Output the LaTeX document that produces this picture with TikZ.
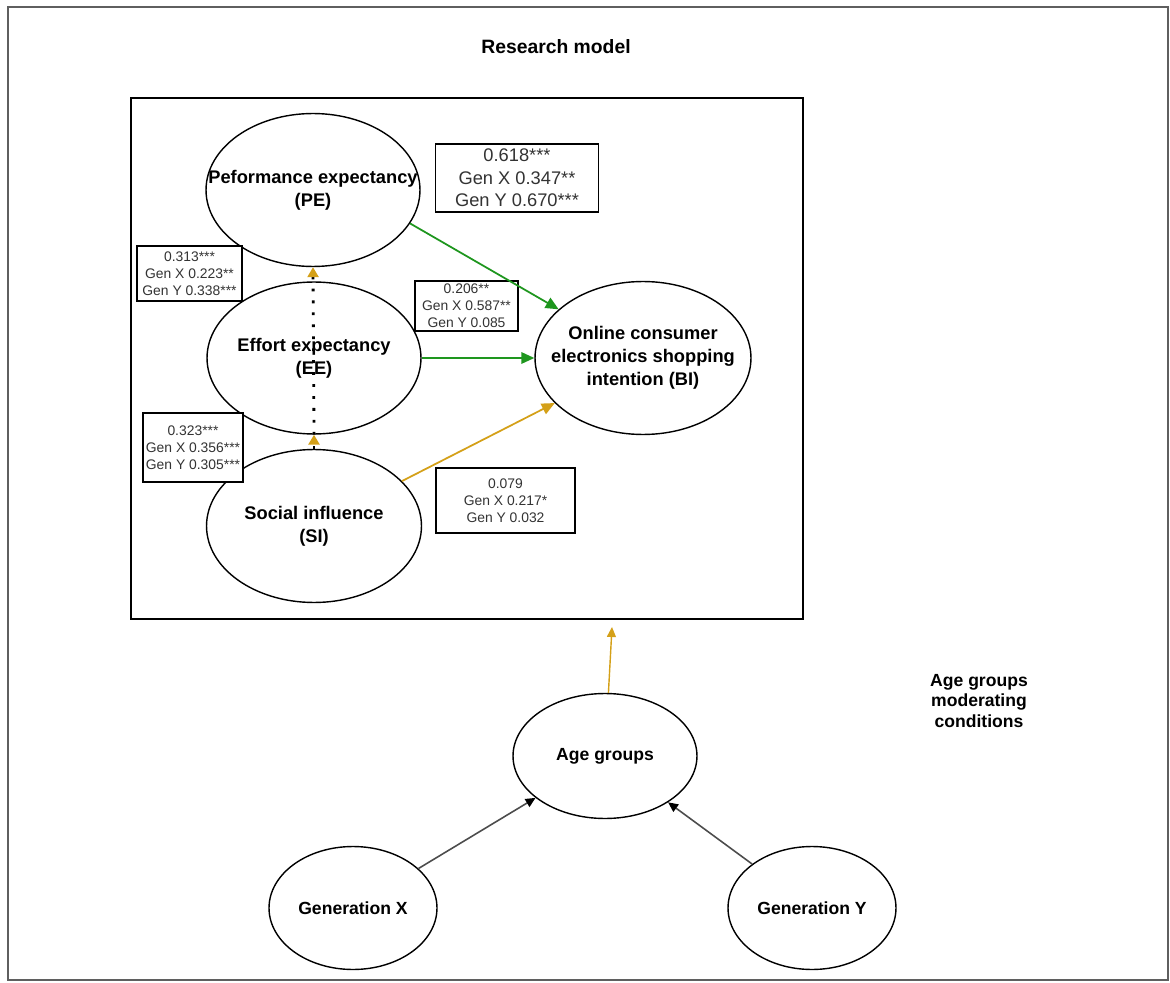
\documentclass[tikz,border=0pt]{standalone}
\usepackage{fontspec}
\setmainfont{Liberation Sans}
\usepackage{xcolor}
\usepackage{tikz}
\usetikzlibrary{arrows.meta,shapes.geometric}
\definecolor{pathgreen}{RGB}{30,150,30}
\definecolor{pathgold}{RGB}{212,160,24}
\definecolor{framegray}{RGB}{95,95,95}

\begin{document}
\begin{tikzpicture}[x=.02cm,y=-.02cm,
  construct/.style={draw,ellipse,line width=.8pt,inner sep=0pt},
  cname/.style={align=center,font=\bfseries\fontsize{10.4}{13}\selectfont},
  coef/.style={draw,fill=white,line width=.8pt,align=center,inner sep=0pt,text=black!80,font=\fontsize{7.9}{9.8}\selectfont},
  greenpath/.style={pathgreen,line width=1pt,-{Triangle[length=2.6mm,width=2.3mm]}},
  goldpath/.style={pathgold,line width=1pt,-{Triangle[length=2.6mm,width=2.3mm]}},
  dotpath/.style={line width=1.6pt,dash pattern=on 1.6pt off 5.2pt,-{Triangle[color=pathgold,length=2mm,width=2.2mm]}},
  genpath/.style={black!70,line width=.9pt,-{Triangle[black,length=2mm,width=1.8mm]}}]
\useasboundingbox (0,0) rectangle (1170,983);
\draw[framegray,line width=1pt] (8,7) rectangle (1168,980);
\node[font=\bfseries\fontsize{11}{13}\selectfont] (title) at (556,47) {Research model};
\draw[line width=1pt] (131,98) rectangle (803,619);

% constructs
\node[construct,minimum width=4.28cm,minimum height=3.06cm,label={[cname]center:{Peformance expectancy\\(PE)}}] (PE) at (313,190) {};
\node[construct,minimum width=4.28cm,minimum height=3.04cm,label={[cname]center:{Effort expectancy\\(EE)}}] (EE) at (314,358) {};
\node[construct,minimum width=4.3cm,minimum height=3.06cm,label={[cname]center:{Social influence\\(SI)}}] (SI) at (314,526) {};
\node[construct,minimum width=4.32cm,minimum height=3.06cm,label={[cname]center:{Online consumer\\electronics shopping\\intention (BI)}}] (BI) at (643,358) {};

% path coefficients
\node[coef,minimum width=3.26cm,minimum height=1.36cm,font=\fontsize{10.4}{12.8}\selectfont] (cPEBI) at (517,178) {0.618***\\Gen X 0.347**\\Gen Y 0.670***};
\node[coef,minimum width=2.1cm,minimum height=1.1cm] (cEEPE) at (189.5,273.5) {0.313***\\Gen X 0.223**\\Gen Y 0.338***};
\node[coef,minimum width=2.06cm,minimum height=1cm] (cEEBI) at (466.5,306) {0.206**\\Gen X 0.587**\\Gen Y 0.085};
\node[coef,minimum width=2cm,minimum height=1.38cm] (cSIEE) at (193,447.5) {0.323***\\Gen X 0.356***\\Gen Y 0.305***};
\node[coef,minimum width=2.78cm,minimum height=1.3cm] (cSIBI) at (505.5,500.5) {0.079\\Gen X 0.217*\\Gen Y 0.032};

\draw[greenpath] (PE.-19) -- (BI.150);
\draw[greenpath] (EE.east) -- (BI.west);
\draw[goldpath] (SI) -- (BI);
\draw[dotpath] (EE.south) -- (PE.south);
\draw[dotpath] (SI.north) -- (EE.south);

% moderator
\node[construct,minimum width=3.68cm,minimum height=2.5cm,label={[cname,font=\bfseries\fontsize{10}{12}\selectfont]center:Age groups}] (age) at (605,756) {};
\node[construct,minimum width=3.36cm,minimum height=2.46cm,label={[cname,font=\bfseries\fontsize{10}{12}\selectfont]center:Generation X}] (genX) at (353,908) {};
\node[construct,minimum width=3.36cm,minimum height=2.46cm,label={[cname,font=\bfseries\fontsize{10}{12}\selectfont]center:Generation Y}] (genY) at (812,908) {};
\node[cname,font=\bfseries\fontsize{10}{11.7}\selectfont] (modnote) at (979,701) {Age groups\\moderating\\conditions};
\coordinate (modelin) at (612,627);
\draw[goldpath,line width=.8pt,-{Triangle[length=2mm,width=1.8mm]}] (age) -- (modelin);
\draw[genpath] (genX) -- (age);
\draw[genpath] (genY) -- (age);
\end{tikzpicture}
\end{document}
